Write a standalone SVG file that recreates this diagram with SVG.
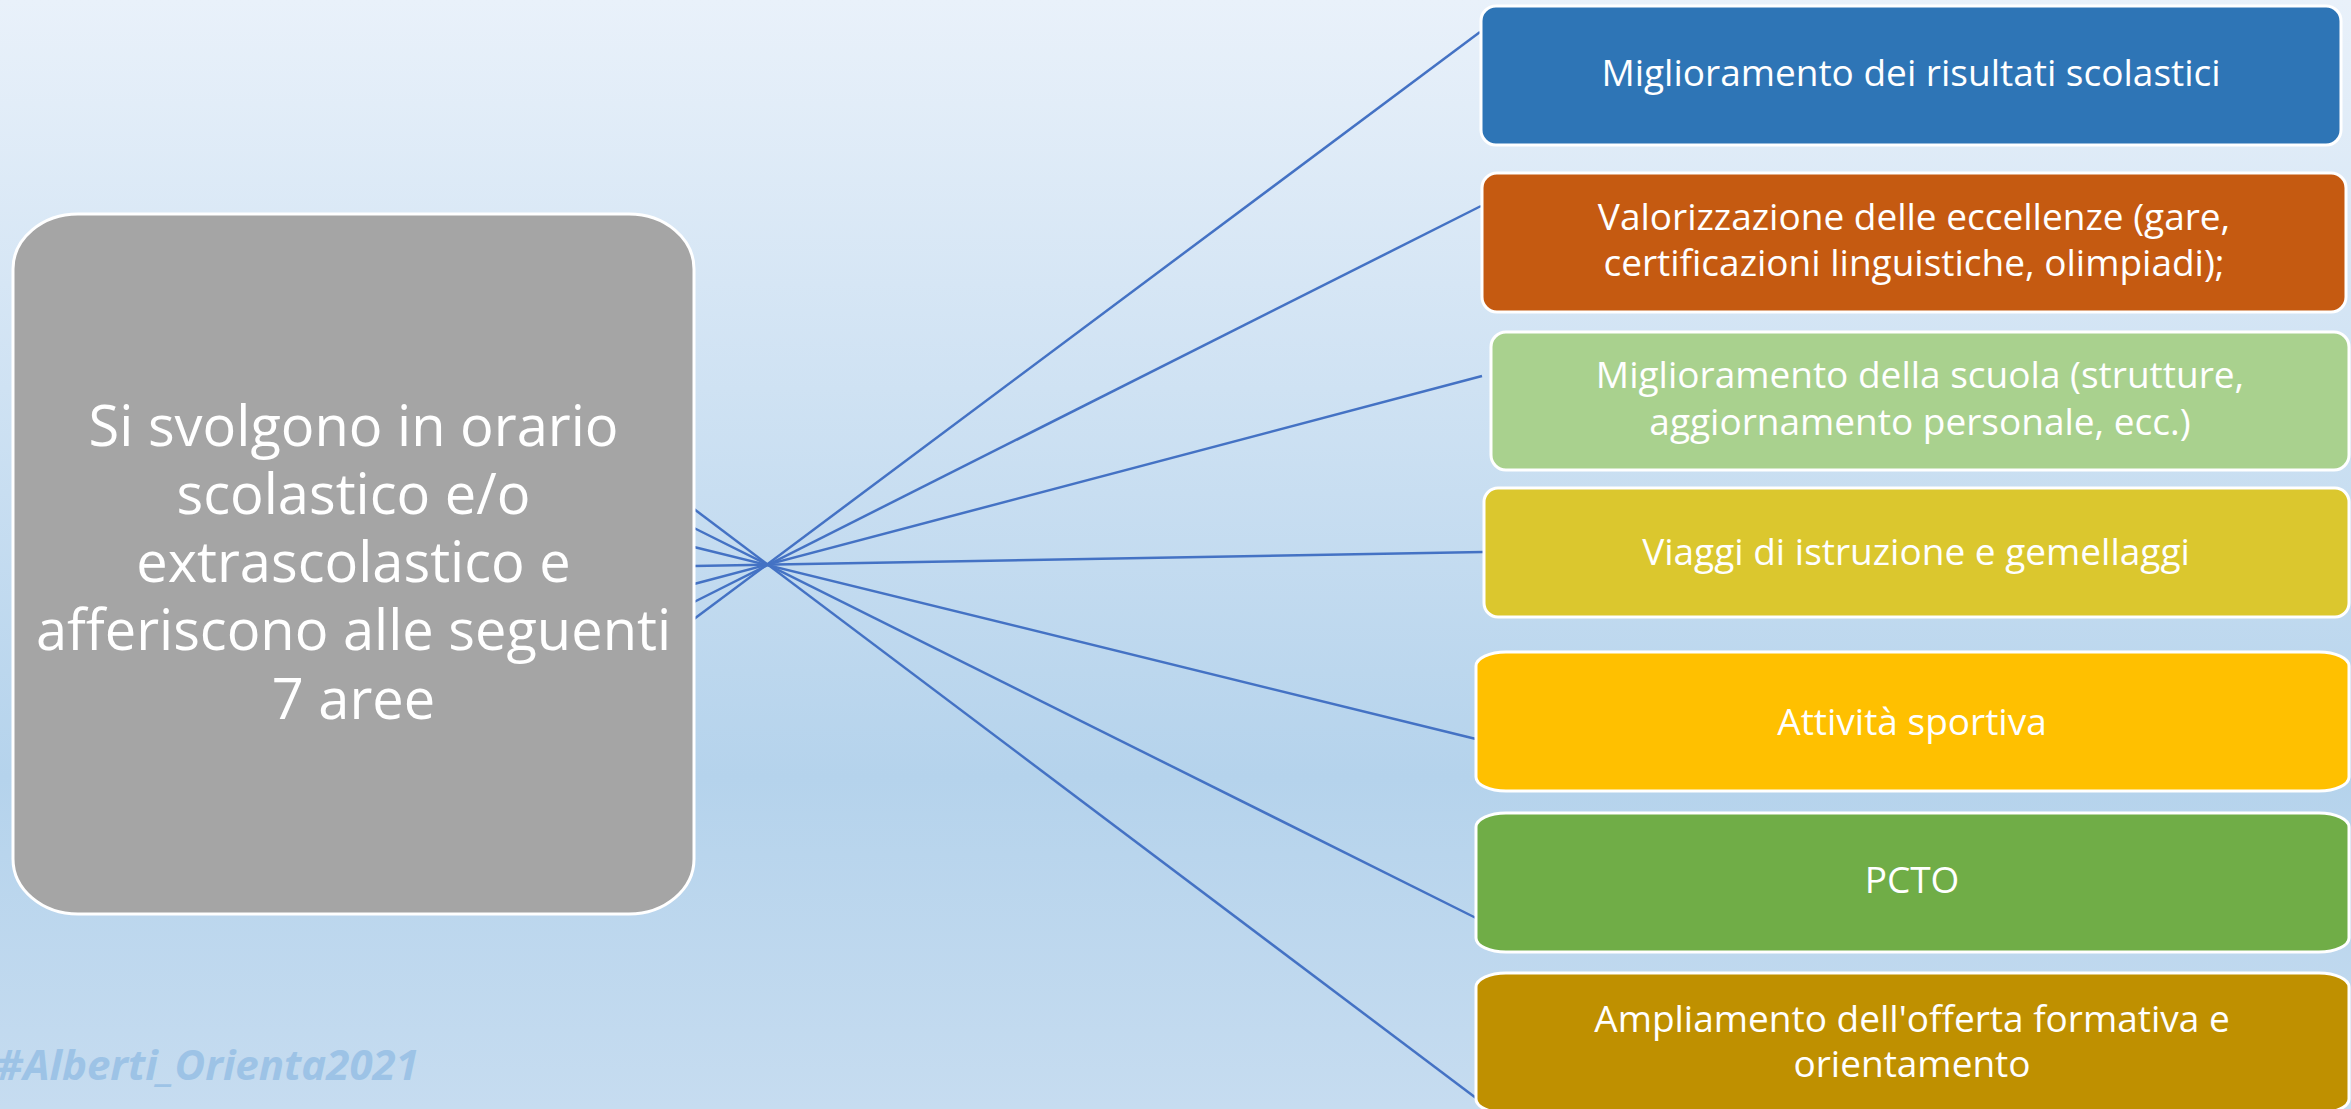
<svg xmlns="http://www.w3.org/2000/svg" width="2351" height="1109" viewBox="0 0 2351 1109">
<defs>
<linearGradient id="bg" x1="0" y1="0" x2="0" y2="1">
<stop offset="0" stop-color="#e9f1fa"/>
<stop offset="0.7" stop-color="#b5d3ec"/>
<stop offset="1" stop-color="#c6dcf0"/>
</linearGradient>
<style>
.box{stroke:#ffffff;stroke-width:3}
.lbl{font-family:"Open Sans","DejaVu Sans",sans-serif;fill:#ffffff;text-anchor:middle;font-size:37px}
.big{font-family:"Open Sans","DejaVu Sans",sans-serif;fill:#ffffff;text-anchor:middle;font-size:56px}
.conn line{stroke:#4472c4;stroke-width:2.5;fill:none}
</style>
</defs>
<rect x="0" y="0" width="2351" height="1109" fill="url(#bg)"/>
<text x="-4" y="1080" font-family="'Open Sans','DejaVu Sans',sans-serif" font-size="42" font-weight="bold" font-style="italic" fill="#9dc3e6">#Alberti_Orienta2021</text>
<g id="connectors" class="conn">
<line x1="694" y1="619" x2="1480" y2="32"/>
<line x1="694" y1="602" x2="1481" y2="206"/>
<line x1="694" y1="584" x2="1482" y2="376"/>
<line x1="694" y1="566" x2="1483" y2="552"/>
<line x1="694" y1="547" x2="1476" y2="739"/>
<line x1="694" y1="528" x2="1476" y2="918"/>
<line x1="694" y1="509" x2="1476" y2="1098"/>
</g>
<g id="center">
<rect class="box" x="13" y="214" width="681" height="700" rx="65" ry="55" fill="#a5a5a5"/>
<text class="big" x="353.5" y="446">Si svolgono in orario</text>
<text class="big" x="353.5" y="514">scolastico e/o</text>
<text class="big" x="353.5" y="582">extrascolastico e</text>
<text class="big" x="353.5" y="650">afferiscono alle seguenti</text>
<text class="big" x="353.5" y="719">7 aree</text>
</g>
<g id="n1">
<rect class="box" x="1481" y="6" width="860" height="139" rx="15" fill="#2e75b6"/>
<text class="lbl" x="1911" y="86">Miglioramento dei risultati scolastici</text>
</g>
<g id="n2">
<rect class="box" x="1482" y="173" width="864" height="139" rx="15" fill="#c55a11"/>
<text class="lbl" x="1914" y="230">Valorizzazione delle eccellenze (gare,</text>
<text class="lbl" x="1914" y="276">certificazioni linguistiche, olimpiadi);</text>
</g>
<g id="n3">
<rect class="box" x="1491" y="332" width="858" height="138" rx="15" fill="#a9d18e"/>
<text class="lbl" x="1920" y="388">Miglioramento della scuola (strutture,</text>
<text class="lbl" x="1920" y="435">aggiornamento personale, ecc.)</text>
</g>
<g id="n4">
<rect class="box" x="1484" y="488" width="865" height="129" rx="14" fill="#dbc72e"/>
<text class="lbl" x="1916" y="565">Viaggi di istruzione e gemellaggi</text>
</g>
<g id="n5">
<rect class="box" x="1476" y="652" width="873" height="139" rx="30" ry="14" fill="#ffc000"/>
<text class="lbl" x="1912" y="735">Attività sportiva</text>
</g>
<g id="n6">
<rect class="box" x="1476" y="813" width="873" height="139" rx="30" ry="14" fill="#70ad47"/>
<text class="lbl" x="1912" y="893">PCTO</text>
</g>
<g id="n7">
<rect class="box" x="1476" y="973" width="873" height="140" rx="30" ry="14" fill="#bf9000"/>
<text class="lbl" x="1912" y="1032">Ampliamento dell'offerta formativa e</text>
<text class="lbl" x="1912" y="1077">orientamento</text>
</g>
</svg>
